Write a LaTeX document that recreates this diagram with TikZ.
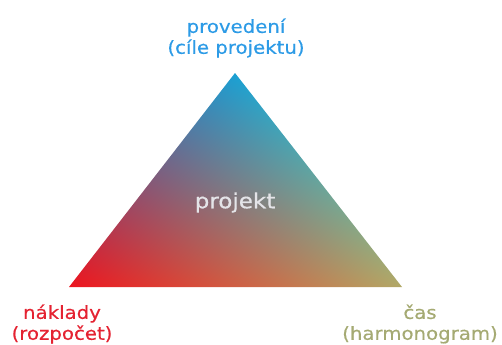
\documentclass[tikz,border=0pt]{standalone}
\usepackage{fontspec}
\usepackage{tikz}
\usetikzlibrary{positioning}
\newfontfamily\labfont[FakeStretch=1.1, FakeBold=0.5]{DejaVu Sans}

\definecolor{perfblue}{RGB}{45,155,230}
\definecolor{costred}{RGB}{228,35,50}
\definecolor{timeolive}{RGB}{165,170,115}
\definecolor{projgray}{RGB}{228,228,232}

% three-corner colour blend (corners at (50,75), (25,25), (75,25))
\pgfdeclarefunctionalshading{tricolor}{\pgfpointorigin}{\pgfpoint{100bp}{100bp}}{}{
  0.02 mul exch 0.02 mul exch
  dup 0.5 sub
  2 index 2 index 0.5 mul sub 0.25 sub
  1.75 4 index sub 3 index 0.5 mul sub
  5 -2 roll pop pop
  % stack: top left right weights -> r g b
  2 index 0.10 mul 2 index 0.70 mul add 1 index 0.93 mul add
  3 index 0.63 mul 3 index 0.66 mul add 2 index 0.08 mul add
  4 index 0.83 mul 4 index 0.40 mul add 3 index 0.12 mul add
  6 -3 roll pop pop pop
}

\tikzset{
  lbl/.style={align=center, inner sep=0pt, font=\labfont\fontsize{18}{21}\selectfont},
}

\begin{document}
\begin{tikzpicture}[x=1bp, y=1bp]
    \useasboundingbox (0,0) rectangle (502,344);

    % corners
    \coordinate (apex) at (235,271);
    \coordinate (bl) at (69,57);
    \coordinate (br) at (402,57);

    % the triangle
    \shade[shading=tricolor] (apex) -- (bl) -- (br) -- cycle;

    \node[inner sep=0pt, text=projgray, font=\labfont\fontsize{21}{24}\selectfont] (proj) at (235,141.5) {projekt};

    % corner labels
    \node[lbl, text=perfblue] (perf) at (236,306) {provedení\\(cíle projektu)};
    \node[lbl, text=costred] (cost) at (62,20) {náklady\\(rozpočet)};
    \node[lbl, text=timeolive] (time) at (420,20) {čas\\(harmonogram)};
\end{tikzpicture}
\end{document}
